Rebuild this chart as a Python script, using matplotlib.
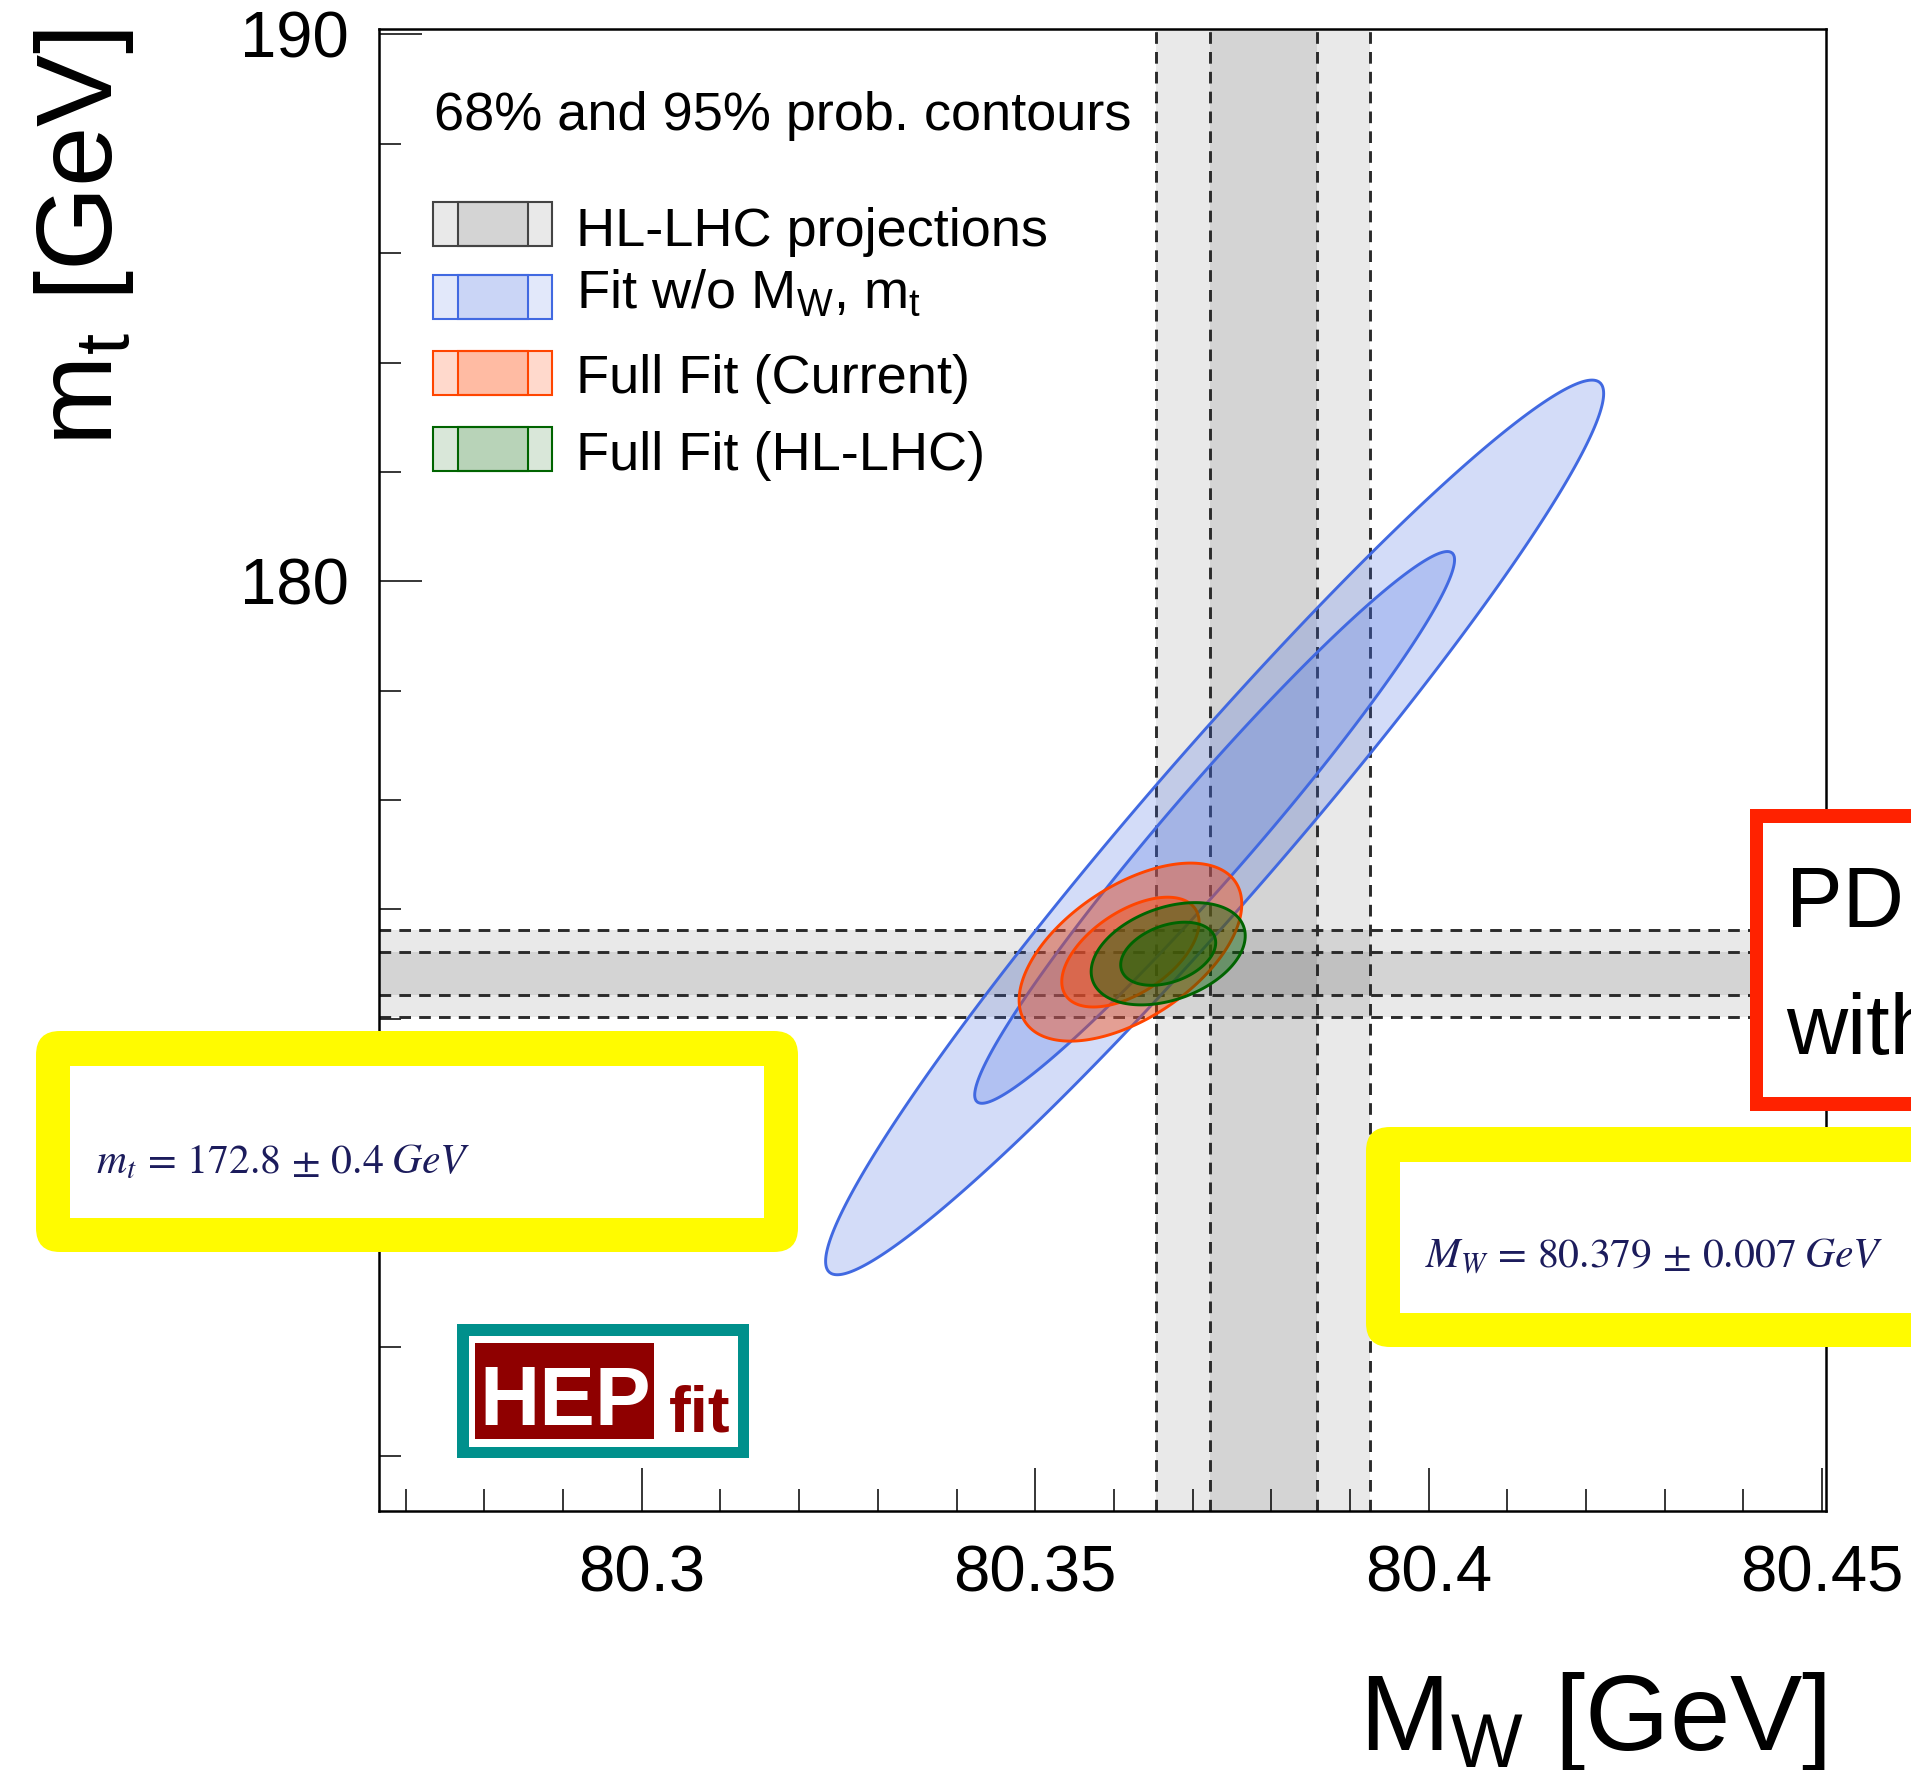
import numpy as np
import matplotlib
matplotlib.use("Agg")
import matplotlib.pyplot as plt
from matplotlib.patches import Rectangle, FancyBboxPatch
from matplotlib.ticker import MultipleLocator, FixedLocator
from matplotlib.transforms import IdentityTransform

# HL-LHC projections: centre, 68% half width, 95% half width
mw_band = [80.379, 0.0068, 0.0136]
mt_band = [172.83, 0.40, 0.80]

# 2D gaussian contours: centre, sigma and correlation for each fit
fit_labels = ["Fit w/o M$_\\mathrm{W}$, m$_\\mathrm{t}$", "Full Fit (Current)", "Full Fit (HL-LHC)"]
fit_mw = [80.3728, 80.3621, 80.3669]
fit_mt = [175.50, 173.22, 173.19]
fit_sig_mw = [0.0202, 0.00578, 0.0040]
fit_sig_mt = [3.342, 0.665, 0.382]
fit_rho = [0.97, 0.54, 0.35]
chi2_levels = [2.279, 5.991]  # 68% and 95% prob. in 2D

x_ticks = [80.3, 80.35, 80.4, 80.45]
x_ticklabels = ["80.3", "80.35", "80.4", "80.45"]
y_ticks = [170, 180, 190]
y_ticklabels = ["", "180", "190"]  # 170 sits under the yellow box

mt_text = r"$m_t\,=\,172.8\,\pm\,0.4\;GeV$"
mw_text = r"$M_W\,=\,80.379\,\pm\,0.007\;GeV$"

W, H = 1911, 1770

plt.rcParams["font.family"] = ["Liberation Sans", "DejaVu Sans"]
plt.rcParams["mathtext.fontset"] = "custom"
plt.rcParams["mathtext.rm"] = "Liberation Sans"
plt.rcParams["mathtext.it"] = "Liberation Sans:italic"
plt.rcParams["mathtext.bf"] = "Liberation Sans:bold"

fig = plt.figure(figsize=(W / 100, H / 100), dpi=100)
ax = fig.add_axes([379 / W, (H - 1511) / H, 1447 / W, 1482 / H])
xlim = (80.2666, 80.4505)
ylim = (163.0, 190.1)
ax.set_xlim(xlim)
ax.set_ylim(ylim)

# HL-LHC bands
band_kw = dict(color="black", alpha=0.085, lw=0, zorder=1)
dash_kw = dict(color="#2a2a2a", lw=2.1, ls=(0, (4.0, 2.8)), zorder=2)
c, w68, w95 = mw_band
ax.axvspan(c - w95, c + w95, **band_kw)
ax.axvspan(c - w68, c + w68, **band_kw)
for v in [c - w95, c - w68, c + w68, c + w95]:
    ax.axvline(v, **dash_kw)
c, w68, w95 = mt_band
ax.axhspan(c - w95, c + w95, **band_kw)
ax.axhspan(c - w68, c + w68, **band_kw)
for v in [c - w95, c - w68, c + w68, c + w95]:
    ax.axhline(v, **dash_kw)

# fit contours
colors = ["royalblue", "orangered", "darkgreen"]
fill_alpha = [0.23, 0.4, 0.4]
gx, gy = np.meshgrid(np.linspace(*xlim, 900), np.linspace(*ylim, 900))
for i in range(3):
    dx = (gx - fit_mw[i]) / fit_sig_mw[i]
    dy = (gy - fit_mt[i]) / fit_sig_mt[i]
    r = fit_rho[i]
    chi2 = (dx**2 - 2 * r * dx * dy + dy**2) / (1 - r**2)
    for lev in chi2_levels[::-1]:
        ax.contourf(gx, gy, chi2, levels=[0, lev], colors=[colors[i]],
                    alpha=fill_alpha[i], zorder=3 + i, antialiased=True)
    ax.contour(gx, gy, chi2, levels=chi2_levels, colors=[colors[i]],
               linewidths=2.1, zorder=3 + i)

# axes styling
ax.xaxis.set_major_locator(FixedLocator(x_ticks))
ax.set_xticklabels(x_ticklabels)
ax.xaxis.set_minor_locator(MultipleLocator(0.01))
ax.yaxis.set_major_locator(FixedLocator(y_ticks))
ax.set_yticklabels(y_ticklabels)
ax.yaxis.set_minor_locator(MultipleLocator(2))
ax.tick_params(which="both", direction="in", top=False, right=False, width=1.1, color="black")
ax.tick_params(which="major", length=31)
ax.tick_params(which="minor", length=15.5)
ax.tick_params(axis="x", labelsize=47, pad=24)
ax.tick_params(axis="y", labelsize=47, pad=22)
for s in ax.spines.values():
    s.set_linewidth(1.8)
    s.set_zorder(10)

pix = IdentityTransform()


def box(x0, y0, x1, y1, **kw):
    # rectangle in image pixels, corners measured from the top left
    return Rectangle((x0, H - y1), x1 - x0, y1 - y0, transform=pix, **kw)


def ftext(x, y, s, **kw):
    return fig.text(x, H - y, s, transform=pix, **kw)


# axis titles
ftext(1826, 1750, r"$\mathrm{M}_\mathrm{W}$ [GeV]", fontsize=78, ha="right", va="baseline")
ftext(112, 29, r"$\mathrm{m}_\mathrm{t}$ [GeV]", fontsize=78, rotation=90,
      rotation_mode="anchor", ha="right", va="baseline")

# legend
ftext(434, 130, "68% and 95% prob. contours", fontsize=39, va="baseline", zorder=20)
leg_labels = ["HL-LHC projections"] + fit_labels
leg_edges = ["#444444"] + colors
leg_fill = ["black"] + colors
leg_alpha = [0.085, 0.15, 0.2, 0.15]
leg_rows = [224, 297, 373, 449]
leg_base = [246, 308, 393, 470]
for i in range(4):
    yc = leg_rows[i]
    fig.add_artist(box(433, yc - 22, 552, yc + 22, facecolor=leg_fill[i], alpha=leg_alpha[i], lw=0, zorder=20))
    fig.add_artist(box(458, yc - 22, 528, yc + 22, facecolor=leg_fill[i], alpha=leg_alpha[i], lw=0, zorder=20))
    fig.add_artist(box(433, yc - 22, 552, yc + 22, fill=False, edgecolor=leg_edges[i], lw=1.5, zorder=21))
    fig.add_artist(box(458, yc - 22, 528, yc + 22, fill=False, edgecolor=leg_edges[i], lw=1.5, zorder=21))
    ftext(576, leg_base[i], leg_labels[i], fontsize=39, va="baseline", zorder=21)

# HEPfit logo
fig.add_artist(box(457, 1324, 749, 1458, facecolor="#00908c", lw=0, zorder=20))
fig.add_artist(box(469, 1336, 738, 1447, facecolor="white", lw=0, zorder=21))
fig.add_artist(box(475, 1343, 654, 1439, facecolor="#8f0000", lw=0, zorder=22))
ftext(565, 1425, "HEP", fontsize=60, fontweight="bold", color="white", ha="center", va="baseline", zorder=23)
ftext(700, 1432, "fit", fontsize=47, fontweight="bold", color="#8f0000", ha="center", va="baseline", zorder=23)

# slide annotations on top of the plot
yellow = "#fffb00"
fig.add_artist(FancyBboxPatch((36, H - 1252), 762, 221, boxstyle="round,pad=0,rounding_size=24",
                              transform=pix, facecolor=yellow, lw=0, zorder=30))
fig.add_artist(box(70, 1066, 764, 1218, facecolor="white", lw=0, zorder=31))
ftext(96, 1173, mt_text, fontsize=30, color="#1c1c5c", math_fontfamily="stix", va="baseline", zorder=32)

fig.add_artist(FancyBboxPatch((1366, H - 1347), 700, 220, boxstyle="round,pad=0,rounding_size=24",
                              transform=pix, facecolor=yellow, lw=0, zorder=30))
fig.add_artist(box(1400, 1162, 2000, 1313, facecolor="white", lw=0, zorder=31))
ftext(1425, 1268, mw_text, fontsize=30, color="#1c1c5c", math_fontfamily="stix", va="baseline", zorder=32)

fig.add_artist(box(1750, 809, 2000, 1111, facecolor="#ff2200", lw=0, zorder=30))
fig.add_artist(box(1763, 823, 2000, 1097, facecolor="white", lw=0, zorder=31))
ftext(1786, 927, "PD", fontsize=61, va="baseline", zorder=32)
ftext(1786, 1054, "with", fontsize=61, va="baseline", zorder=32)

fig.savefig("out.png", dpi=100)
